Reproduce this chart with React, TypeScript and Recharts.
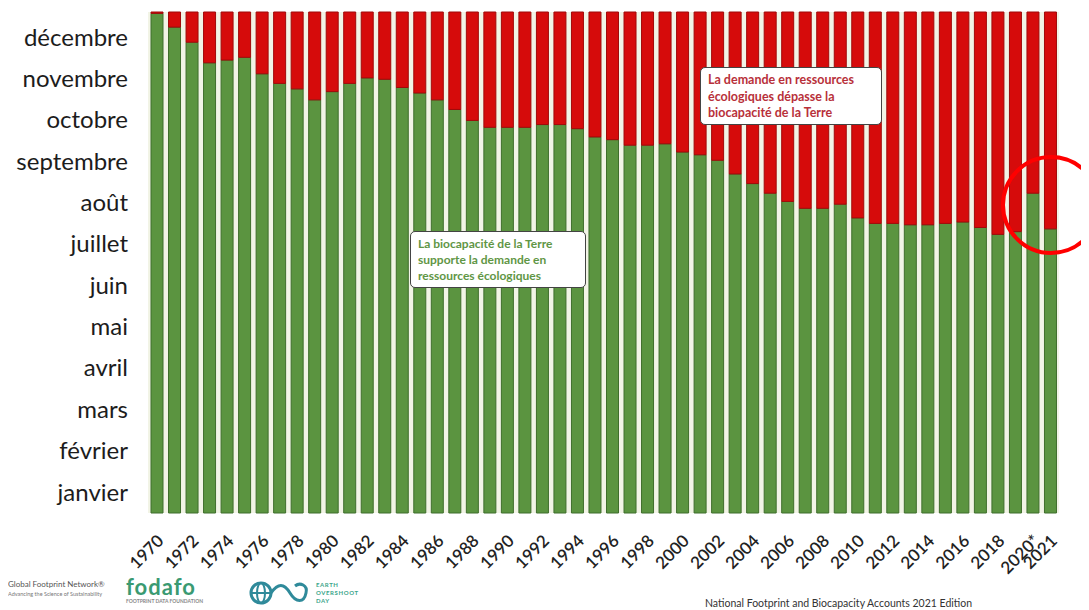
import React from "react";
import { BarChart, Bar, XAxis, YAxis, CartesianGrid } from "recharts";

const years = [
  "1970","1971","1972","1973","1974","1975","1976","1977","1978","1979",
  "1980","1981","1982","1983","1984","1985","1986","1987","1988","1989",
  "1990","1991","1992","1993","1994","1995","1996","1997","1998","1999",
  "2000","2001","2002","2003","2004","2005","2006","2007","2008","2009",
  "2010","2011","2012","2013","2014","2015","2016","2017","2018","2019",
  "2020*","2021",
];

// Day of year of Earth Overshoot Day (green part)
const overshootDay = [
  364, 354, 343, 328, 330, 332, 320, 313, 309, 301,
  307, 313, 317, 316, 310, 306, 301, 294, 286, 281,
  281, 281, 283, 283, 280, 274, 272, 268, 268, 269,
  263, 261, 257, 247, 240, 233, 227, 222, 222, 225,
  215, 211, 211, 210, 210, 211, 212, 208, 203, 205,
  233, 207,
];

const DAYS_IN_YEAR = 365;

const months = [
  "janvier","février","mars","avril","mai","juin",
  "juillet","août","septembre","octobre","novembre","décembre",
];

const shownYearLabels = [
  "1970","1972","1974","1976","1978","1980","1982","1984","1986","1988",
  "1990","1992","1994","1996","1998","2000","2002","2004","2006","2008",
  "2010","2012","2014","2016","2018","2020*","2021",
];

const data = years.map((y, i) => ({
  year: y,
  green: overshootDay[i],
  red: DAYS_IN_YEAR - overshootDay[i],
}));

const monthWidth = DAYS_IN_YEAR / 12;
const monthTicks = months.map((_, i) => (i + 0.5) * monthWidth);

const FONT = "Lato, 'Open Sans', sans-serif";

const XTick = (props: any) => {
  const { x, y, payload } = props;
  const label = payload.value as string;
  if (!shownYearLabels.includes(label)) return null;
  const tx = x + 8;
  const ty = y + 29;
  return (
    <text
      x={tx}
      y={ty}
      transform={`rotate(-45, ${tx}, ${ty})`}
      textAnchor="end"
      fontFamily={FONT}
      fontSize={17}
      fontWeight={600}
      fill="#222"
    >
      {label}
    </text>
  );
};

const YTick = (props: any) => {
  const { x, y, payload } = props;
  const idx = Math.floor(payload.value / monthWidth);
  const shift = idx * 0.4;
  return (
    <text
      x={x}
      y={y + shift}
      dy="0.35em"
      textAnchor="end"
      fontFamily={FONT}
      fontSize={24}
      fill="#1c1c1c"
    >
      {months[idx]}
    </text>
  );
};

export default function App() {
  return (
    <div
      style={{
        position: "relative",
        width: 1081,
        height: 602,
        overflow: "hidden",
        fontFamily: FONT,
        background: "#fff",
      }}
    >
      <BarChart
        width={1081}
        height={602}
        data={data}
        margin={{ top: 4, right: 30, left: 0, bottom: 37 }}
        barSize={12}
      >
        <CartesianGrid horizontal={false} vertical={false} fill="#f2f4e6" stroke="none" />
        <XAxis
          dataKey="year"
          interval={0}
          height={60}
          tickLine={false}
          axisLine={false}
          tickSize={0}
          tickMargin={0}
          tick={<XTick />}
        />
        <YAxis
          type="number"
          domain={[0, DAYS_IN_YEAR]}
          ticks={monthTicks}
          width={140}
          tickLine={false}
          axisLine={false}
          tickSize={0}
          tickMargin={20}
          interval={0}
          tick={<YTick />}
        />
        <Bar
          dataKey="green"
          stackId="a"
          fill="#5b9440"
          stroke="#3f6e2c"
          strokeWidth={1}
          isAnimationActive={false}
        />
        <Bar
          dataKey="red"
          stackId="a"
          fill="#d60b0b"
          stroke="#a00a0a"
          strokeWidth={1}
          isAnimationActive={false}
        />
      </BarChart>

      {/* Annotation: red */}
      <div
        style={{
          position: "absolute",
          left: 692,
          top: 59,
          width: 182,
          height: 58,
          background: "#fff",
          border: "1.5px solid #444",
          borderRadius: 5,
          boxSizing: "border-box",
          padding: "4px 7px",
          color: "#b8303a",
          fontSize: 12.5,
          fontWeight: 700,
          lineHeight: "16.5px",
        }}
      >
        La demande en ressources
        <br />
        écologiques dépasse la
        <br />
        biocapacité de la Terre
      </div>

      {/* Annotation: green */}
      <div
        style={{
          position: "absolute",
          left: 402,
          top: 223,
          width: 176,
          height: 57,
          background: "#fff",
          border: "1.5px solid #444",
          borderRadius: 5,
          boxSizing: "border-box",
          padding: "4px 7px",
          color: "#5f9645",
          fontSize: 12,
          fontWeight: 700,
          lineHeight: "16px",
        }}
      >
        La biocapacité de la Terre
        <br />
        supporte la demande en
        <br />
        ressources écologiques
      </div>

      {/* Red circle highlight */}
      <div
        style={{
          position: "absolute",
          left: 993,
          top: 147,
          width: 100,
          height: 100,
          borderRadius: "50%",
          border: "4px solid #f00",
          boxSizing: "border-box",
        }}
      />

      {/* Footer logos */}
      <div
        style={{
          position: "absolute",
          left: 0,
          top: 571,
          color: "#555",
          fontSize: 8,
          lineHeight: "10px",
          whiteSpace: "nowrap",
        }}
      >
        Global Footprint Network®
        <div style={{ fontSize: 5.5, color: "#777" }}>
          Advancing the Science of Sustainability
        </div>
      </div>
      <div
        style={{
          position: "absolute",
          left: 118,
          top: 568,
          color: "#3a9a72",
          fontSize: 22,
          fontWeight: 700,
          letterSpacing: 1,
          lineHeight: "22px",
        }}
      >
        fodafo
        <div style={{ fontSize: 5, color: "#888", letterSpacing: 0, lineHeight: "6px" }}>
          FOOTPRINT DATA FOUNDATION
        </div>
      </div>
      <svg
        style={{ position: "absolute", left: 240, top: 572 }}
        width={62}
        height={26}
      >
        <circle cx={13} cy={13} r={10} fill="none" stroke="#2f8a9a" strokeWidth={3} />
        <line x1={3} y1={13} x2={23} y2={13} stroke="#2f8a9a" strokeWidth={2} />
        <ellipse cx={13} cy={13} rx={4} ry={10} fill="none" stroke="#2f8a9a" strokeWidth={2} />
        <path
          d="M23 13 C30 3, 36 3, 42 13 C48 23, 56 23, 58 13 C60 5, 52 2, 47 6"
          fill="none"
          stroke="#2f8a9a"
          strokeWidth={3}
        />
      </svg>
      <div
        style={{
          position: "absolute",
          left: 308,
          top: 573,
          color: "#3aa58a",
          fontSize: 6,
          fontWeight: 700,
          lineHeight: "8px",
          letterSpacing: 0.6,
        }}
      >
        EARTH
        <br />
        OVERSHOOT
        <br />
        DAY
      </div>
      <div
        style={{
          position: "absolute",
          left: 697,
          top: 589,
          color: "#333",
          fontSize: 10.5,
          whiteSpace: "nowrap",
        }}
      >
        National Footprint and Biocapacity Accounts 2021 Edition
      </div>
    </div>
  );
}
